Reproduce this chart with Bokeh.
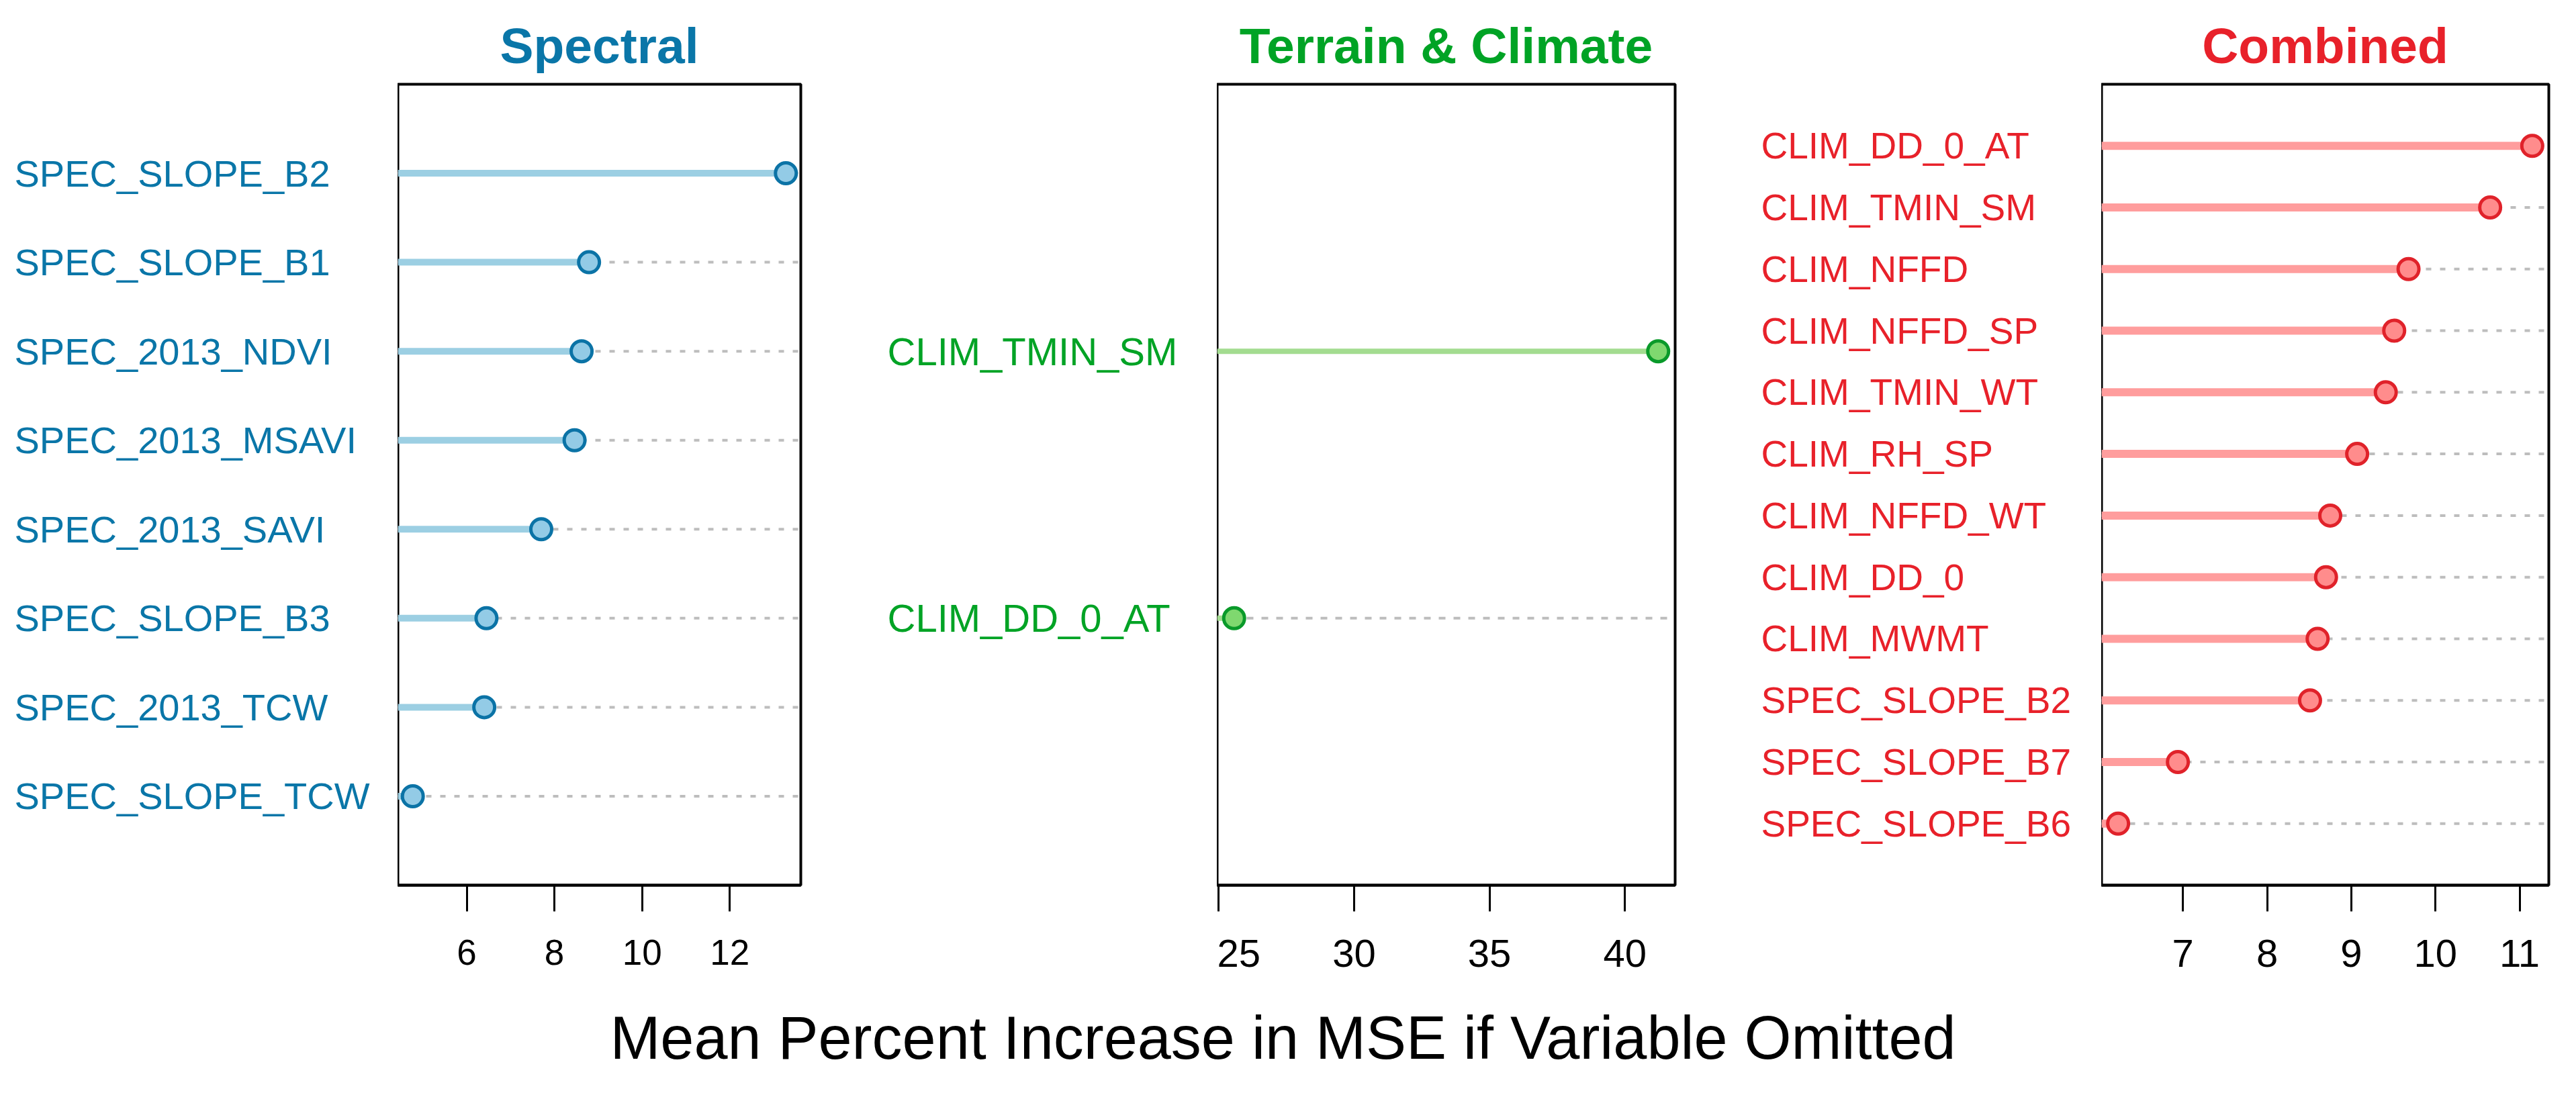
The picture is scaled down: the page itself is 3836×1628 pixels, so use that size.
from bokeh.plotting import figure
from bokeh.layouts import row, column
from bokeh.models import Range1d, FixedTicker, ColumnDataSource
from bokeh.core.properties import value
from bokeh.embed import file_html
from bokeh.resources import INLINE

# ---------------- data ----------------
spec_labels = ["SPEC_SLOPE_B2", "SPEC_SLOPE_B1", "SPEC_2013_NDVI", "SPEC_2013_MSAVI",
               "SPEC_2013_SAVI", "SPEC_SLOPE_B3", "SPEC_2013_TCW", "SPEC_SLOPE_TCW"]
spec_values = [13.28, 8.79, 8.62, 8.46, 7.70, 6.45, 6.40, 4.77]
spec_ticks = [6, 8, 10, 12]

terr_labels = ["CLIM_TMIN_SM", "CLIM_DD_0_AT"]
terr_values = [41.23, 25.57]
terr_ticks = [25, 30, 35, 40]

comb_labels = ["CLIM_DD_0_AT", "CLIM_TMIN_SM", "CLIM_NFFD", "CLIM_NFFD_SP", "CLIM_TMIN_WT",
               "CLIM_RH_SP", "CLIM_NFFD_WT", "CLIM_DD_0", "CLIM_MWMT", "SPEC_SLOPE_B2",
               "SPEC_SLOPE_B7", "SPEC_SLOPE_B6"]
comb_values = [11.15, 10.65, 9.68, 9.51, 9.41, 9.07, 8.75, 8.70, 8.60, 8.51, 6.94, 6.23]
comb_ticks = [7, 8, 9, 10, 11]

titles = ["Spectral", "Terrain & Climate", "Combined"]
x_title = "Mean Percent Increase in MSE if Variable Omitted"

FONT = "Liberation Sans"
TOP = 125
FRAME_H = 1193
BOTTOM = 160
H = TOP + FRAME_H + BOTTOM
STRIP_H = 1612 - H


def panel(labels, values, ticks, title, label_w, label_off, frame_w, right_b,
          txt_col, line_col, fill_col, edge_col, lab_size, tick_size, seg_w, dash):
    n = len(values)
    ys = list(range(n, 0, -1))
    lo_v, hi_v = min(values), max(values)
    pad = 0.04 * (hi_v - lo_v)
    lo, hi = lo_v - pad, hi_v + pad

    # label figure
    lf = figure(width=label_w, height=H, x_range=Range1d(0, 1), y_range=Range1d(0, n + 1),
                min_border_left=0, min_border_right=0, min_border_top=TOP,
                min_border_bottom=BOTTOM, toolbar_location=None, output_backend="svg",
                x_axis_location=None, y_axis_location=None, outline_line_color=None)
    lf.grid.visible = False
    lsrc = ColumnDataSource(dict(x=[0] * n, y=ys, t=labels))
    lf.text(x="x", y="y", text="t", source=lsrc, x_offset=label_off,
            text_align="left", text_baseline="middle", text_color=txt_col,
            text_font=value(FONT), text_font_size=value(lab_size))

    # plot figure
    p = figure(width=frame_w + right_b, height=H, x_range=Range1d(lo, hi),
               y_range=Range1d(0, n + 1), min_border_left=0, min_border_right=right_b,
               min_border_top=TOP, min_border_bottom=BOTTOM, toolbar_location=None,
               output_backend="svg", y_axis_location=None)
    p.grid.visible = False
    p.outline_line_color = "black"
    p.outline_line_width = 4
    src = ColumnDataSource(dict(lo=[lo] * n, hi=[hi] * n, v=values, y=ys))
    p.segment(x0="lo", x1="hi", y0="y", y1="y", source=src, line_color="#bdbdbd",
              line_width=4, line_dash=dash)
    p.segment(x0="lo", x1="v", y0="y", y1="y", source=src, line_color=line_col,
              line_width=seg_w)
    p.scatter(x="v", y="y", source=src, size=31, fill_color=fill_col,
              line_color=edge_col, line_width=5)

    ax = p.xaxis[0]
    ax.ticker = FixedTicker(ticks=ticks)
    ax.major_tick_out = 39
    ax.major_tick_in = 0
    ax.minor_tick_line_color = None
    ax.major_tick_line_width = 3
    ax.major_tick_line_color = "black"
    ax.axis_line_width = 4
    ax.axis_line_color = "black"
    ax.major_label_standoff = 42
    ax.major_label_text_font = FONT
    ax.major_label_text_font_size = tick_size
    ax.major_label_text_color = "black"

    p.title.text = title
    p.title.align = "center"
    p.title.text_font = FONT
    p.title.text_font_style = "bold"
    p.title.text_font_size = "75px"
    p.title.text_color = txt_col
    p.title.standoff = 32
    return lf, p


l1, p1 = panel(spec_labels, spec_values, spec_ticks, titles[0], 592, 21, 600, 20,
               "#0a76a8", "#9ccfe3", "#93cbe6", "#0b73a6", "56px", "53px", 10, "8 13")
l2, p2 = panel(terr_labels, terr_values, terr_ticks, titles[1], 600, 109, 682, 20,
               "#00a325", "#a3dc90", "#7fd86f", "#0a9a2a", "58px", "58px", 8, "10 12")
l3, p3 = panel(comb_labels, comb_values, comb_ticks, titles[2], 615, 108, 666, 25,
               "#e8212a", "#ff9d9d", "#ff8c8c", "#e0222a", "55px", "58px", 12, "8 13")

strip = figure(width=3820, height=STRIP_H, x_range=Range1d(0, 1), y_range=Range1d(0, 1),
               min_border=0, toolbar_location=None, output_backend="svg",
               x_axis_location=None, y_axis_location=None, outline_line_color=None)
strip.grid.visible = False
strip.text(x=[0.5], y=[0.5], text=[x_title], text_align="center", text_baseline="middle",
           text_color="black", text_font=value(FONT), text_font_size=value("90px"))

layout = column(row(l1, p1, l2, p2, l3, p3), strip)
open("out.html", "w").write(file_html(layout, INLINE))
